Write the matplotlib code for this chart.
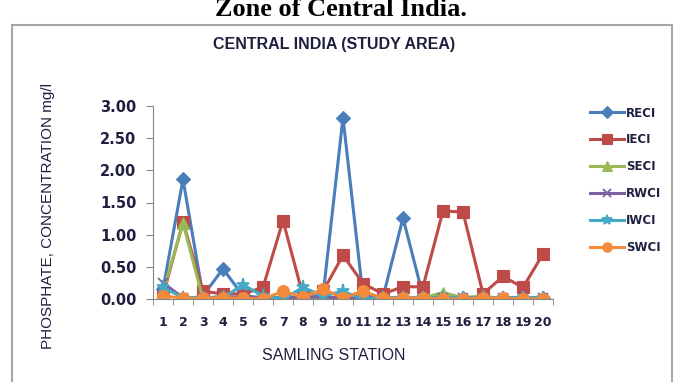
import matplotlib
matplotlib.use("Agg")
import matplotlib.pyplot as plt
from matplotlib.patches import Rectangle
from matplotlib.lines import Line2D

stations = list(range(1, 21))
RECI = [0.15, 1.86, 0.05, 0.47, 0.05, 0.02, 0.02, 0.02, 0.05, 2.82,
        0.05, 0.03, 1.26, 0.05, 0.02, 0.02, 0.02, 0.02, 0.02, 0.02]
IECI = [0.05, 1.20, 0.12, 0.08, 0.08, 0.18, 1.22, 0.05, 0.12, 0.68,
        0.24, 0.08, 0.19, 0.19, 1.37, 1.35, 0.08, 0.35, 0.18, 0.70]
SECI = [0.10, 1.18, 0.00, 0.05, 0.00, 0.00, 0.00, 0.00, 0.02, 0.00,
        0.00, 0.00, 0.00, 0.02, 0.10, 0.02, 0.05, 0.00, 0.00, 0.00]
RWCI = [0.25, 0.02, 0.02, 0.03, 0.03, 0.02, 0.02, 0.03, 0.03, 0.02,
        0.02, 0.02, 0.02, 0.02, 0.02, 0.02, 0.02, 0.02, 0.02, 0.02]
IWCI = [0.18, 0.02, 0.02, 0.02, 0.22, 0.05, 0.00, 0.18, 0.05, 0.12,
        0.00, 0.02, 0.02, 0.02, 0.02, 0.02, 0.02, 0.02, 0.02, 0.02]
SWCI = [0.05, 0.01, 0.01, 0.02, 0.01, 0.00, 0.12, 0.03, 0.15, 0.02,
        0.12, 0.01, 0.01, 0.02, 0.00, 0.00, 0.02, 0.01, 0.00, 0.00]
yticks = [0.0, 0.5, 1.0, 1.5, 2.0, 2.5, 3.0]

series = [
    ("RECI", RECI, "#4A7EBB", "D", 7.5),
    ("IECI", IECI, "#BE4B48", "s", 9),
    ("SECI", SECI, "#98B954", "^", 9),
    ("RWCI", RWCI, "#7D60A0", "x", 7),
    ("IWCI", IWCI, "#46AAC5", "*", 9.5),
    ("SWCI", SWCI, "#F38A3C", "o", 8.5),
]

W, H = 681, 382
fig = plt.figure(figsize=(W / 100, H / 100), dpi=100)
fig.patch.set_facecolor("white")

# outer chart frame
fig.patches.append(Rectangle((12 / W, -0.05), 660 / W, 1 - 25 / H + 0.05,
                             transform=fig.transFigure, fill=False,
                             edgecolor="#A6A6A6", linewidth=1.5))

ax = fig.add_axes([153 / W, 1 - 299 / H, 400 / W, 193 / H])
for name, vals, col, mk, ms in series:
    ax.plot(stations, vals, color=col, marker=mk, markersize=ms, linewidth=2.2,
            markeredgecolor=col, markeredgewidth=1.3 if mk in ("x", "*") else 0.8,
            label=name)

ax.set_xlim(0.5, 20.5)
ax.set_ylim(0, 3.0)
ax.set_yticks(yticks)
ax.set_yticklabels([f"{v:.2f}" for v in yticks], fontsize=10.5, fontweight="bold",
                   color="#1F1F3F", family="DejaVu Sans")
ax.set_xticks(stations)
ax.set_xticklabels([str(s) for s in stations], fontsize=9, fontweight="bold",
                   color="#1F1F3F", family="DejaVu Sans")
ax.set_xticks([s + 0.5 for s in range(0, 21)], minor=True)
ax.tick_params(axis="x", which="major", length=0, pad=12)
ax.tick_params(axis="x", which="minor", length=4, color="#868686")
ax.tick_params(axis="y", length=5, color="#868686", pad=7)
for s in ("top", "right"):
    ax.spines[s].set_visible(False)
for s in ("left", "bottom"):
    ax.spines[s].set_color("#868686")

fig.text(341 / W, 1 - 16 / H, "Zone of Central India.", ha="center", va="baseline",
         fontsize=19, fontweight="bold", family="Liberation Serif")
fig.text(334 / W, 1 - 45 / H, "CENTRAL INDIA (STUDY AREA)", ha="center", va="center",
         fontsize=11.5, fontweight="bold", family="Liberation Sans", color="#1F1F3F")
fig.text(48 / W, 1 - 216 / H, "PHOSPHATE, CONCENTRATION mg/l", ha="center", va="center",
         rotation=90, fontsize=11, family="Liberation Sans", color="#1F1F3F")
fig.text(334 / W, 1 - 355 / H, "SAMLING STATION", ha="center", va="center",
         fontsize=11.5, family="Liberation Sans", color="#1F1F3F")

handles = [Line2D([], [], color=col, marker=mk, markersize=ms * 0.8, linewidth=2.2,
                  markeredgecolor=col, markeredgewidth=1.3 if mk in ("x", "*") else 0.8)
           for _, _, col, mk, ms in series]
leg = fig.legend(handles, [s[0] for s in series], loc="upper left",
                 bbox_to_anchor=(579 / W, 1 - 96 / H), frameon=False,
                 prop={"family": "DejaVu Sans", "weight": "bold", "size": 8.5},
                 handlelength=2.9, handletextpad=0.15, labelspacing=1.17)
for t in leg.get_texts():
    t.set_color("#1F1F3F")

fig.savefig("out.png", dpi=100, facecolor="white")
